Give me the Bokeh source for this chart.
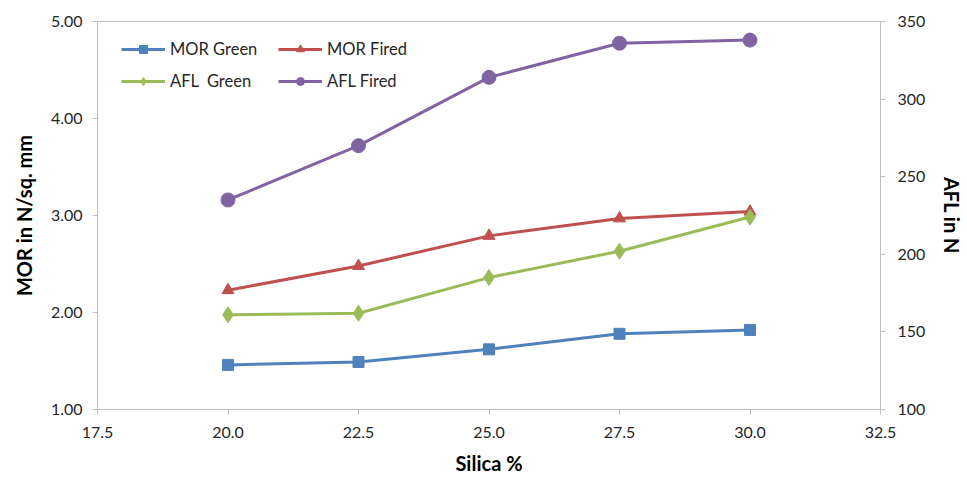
from bokeh.plotting import figure
from bokeh.models import Range1d, LinearAxis, FixedTicker, Legend, LegendItem, NumeralTickFormatter
from bokeh.embed import file_html
from bokeh.resources import INLINE

silica = [20.0, 22.5, 25.0, 27.5, 30.0]
mor_green = [1.46, 1.49, 1.62, 1.78, 1.82]
mor_fired = [2.23, 2.48, 2.79, 2.97, 3.04]
afl_green = [161, 162, 185, 202, 224]
afl_fired = [235, 270, 314, 336, 338]

x_ticks = [17.5, 20.0, 22.5, 25.0, 27.5, 30.0, 32.5]
left_ticks = [1, 2, 3, 4, 5]
right_ticks = [100, 150, 200, 250, 300, 350]

FONT = "Lato"
p = figure(width=967, height=477, output_backend="svg", toolbar_location=None,
           x_range=Range1d(17.5, 32.5), y_range=Range1d(1, 5),
           min_border_left=97, min_border_right=85, min_border_top=21, min_border_bottom=68)
p.extra_y_ranges = {"afl": Range1d(100, 350)}
p.outline_line_color = "#BFBFBF"
p.xgrid.visible = False
p.ygrid.visible = False
p.background_fill_color = "white"

def style_axis(ax):
    ax.axis_line_color = "#BFBFBF"
    ax.major_tick_line_color = "#BFBFBF"
    ax.minor_tick_line_color = None
    ax.major_tick_in = 0
    ax.major_tick_out = 5
    ax.major_label_text_font = FONT
    ax.major_label_text_font_size = "16px"
    ax.major_label_text_color = "#262626"
    ax.axis_label_text_font = FONT
    ax.axis_label_text_font_size = "20px"
    ax.axis_label_text_font_style = "bold"
    ax.axis_label_text_color = "#000000"

p.xaxis.ticker = FixedTicker(ticks=x_ticks)
p.xaxis.formatter = NumeralTickFormatter(format="0.0")
p.xaxis.axis_label = "Silica %"
p.yaxis.ticker = FixedTicker(ticks=left_ticks)
p.yaxis.formatter = NumeralTickFormatter(format="0.00")
p.yaxis.axis_label = "MOR in N/sq. mm"
style_axis(p.xaxis[0])
style_axis(p.yaxis[0])
p.xaxis.major_label_standoff = 12
p.xaxis.axis_label_standoff = 10
p.yaxis.major_label_standoff = 10
p.yaxis.axis_label_standoff = 12

rax = LinearAxis(y_range_name="afl", ticker=FixedTicker(ticks=right_ticks), axis_label="AFL in N")
style_axis(rax)
rax.major_label_standoff = 12
rax.axis_label_standoff = 12
p.add_layout(rax, "right")

c_blue, c_red, c_green, c_purple = "#4F81BD", "#C0504D", "#9BBB59", "#8064A2"

l1 = p.line(silica, mor_green, line_color=c_blue, line_width=3)
m1 = p.scatter(silica, mor_green, marker="square", size=11, color=c_blue)
l2 = p.line(silica, mor_fired, line_color=c_red, line_width=3)
m2 = p.scatter(silica, mor_fired, marker="triangle", size=12, color=c_red)
l3 = p.line(silica, afl_green, line_color=c_green, line_width=3, y_range_name="afl")
m3 = p.scatter(silica, afl_green, marker="diamond", size=16, color=c_green, y_range_name="afl")
l4 = p.line(silica, afl_fired, line_color=c_purple, line_width=3, y_range_name="afl")
m4 = p.scatter(silica, afl_fired, marker="circle", size=14, color=c_purple, y_range_name="afl")

legend = Legend(items=[
    LegendItem(label="MOR Green", renderers=[l1, m1]),
    LegendItem(label="AFL  Green", renderers=[l3, m3]),
    LegendItem(label="MOR Fired", renderers=[l2, m2]),
    LegendItem(label="AFL Fired", renderers=[l4, m4]),
], location=(24, 318), ncols=2)
legend.border_line_color = None
legend.background_fill_alpha = 0
legend.label_text_font = FONT
legend.label_text_font_size = "16.5px"
legend.label_text_color = "#262626"
legend.glyph_width = 44
legend.label_width = 96
legend.spacing = 12
legend.padding = 6
p.add_layout(legend, "center")

open("out.html", "w").write(file_html(p, INLINE))
